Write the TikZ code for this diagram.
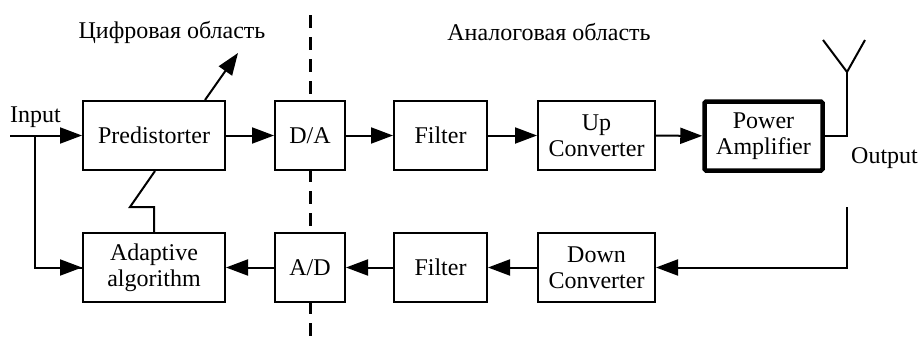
\documentclass[tikz,border=0pt]{standalone}
\usepackage{fontspec}
\setmainfont{Liberation Serif}
\usetikzlibrary{arrows.meta}
\begin{document}
\begin{tikzpicture}[x=1pt,y=-1pt,
  blk/.style={draw,line width=2pt,fill=white,minimum height=69pt,align=center,inner sep=0pt,font=\fontsize{24}{26}\selectfont},
  wire/.style={line width=2pt},
  arr/.style={wire,-{Triangle[length=22pt,width=16pt]}},
  lbl/.style={font=\fontsize{24}{26}\selectfont,inner sep=0pt}]
\useasboundingbox (0,0) rectangle (919,338);
\draw[line width=3pt,dash pattern=on 13pt off 9pt] (310,15) coordinate (dtop) -- (310,338) coordinate (dbot);
\node[blk,minimum width=142pt] (pre) at (154,135.5) {Predistorter};
\node[blk,minimum width=70pt] (da) at (310,135.5) {D/A};
\node[blk,minimum width=93pt] (f1) at (440.5,135.5) {Filter};
\node[blk,minimum width=117pt] (up) at (596.5,135.5) {Up\\Converter};
\node[blk,line width=4.5pt,rounded corners=1.5pt,minimum width=118pt,minimum height=69pt] (pa) at (763.5,136) {Power\\Amplifier};
\node[blk,minimum width=142pt] (ada) at (154,267.5) {Adaptive\\algorithm};
\node[blk,minimum width=70pt] (ad) at (310,267.5) {A/D};
\node[blk,minimum width=93pt] (f2) at (440.5,267.5) {Filter};
\node[blk,minimum width=117pt] (dn) at (596.5,267.5) {Down\\Converter};
\node[lbl,anchor=west] (inl) at (10,117) {Input};
\node[lbl,anchor=west] (outl) at (851,158) {Output};
\node[lbl] (dig) at (172,32) {Цифровая область};
\node[lbl] (ana) at (549,32) {Аналоговая область};
\coordinate (in) at (10,135.5);
\coordinate (br) at (35,135.5);
\coordinate (ant) at (847,72);
\coordinate (fb) at (847,207);
\coordinate (tip) at (238,53);
\draw[arr] (in) -- (pre);
\draw[wire] (br) |- (ada.west) ;
\draw[arr] (br |- ada.west) -- (ada);
\draw[arr] (pre) -- (da);
\draw[arr] (da) -- (f1);
\draw[arr] (f1) -- (up);
\draw[arr] (up) -- (pa);
\draw[wire] (pa.east) -| (ant);
\draw[wire,line join=miter] (823,40) -- (ant) -- (865,40);
\draw[arr] (fb) |- (dn.east);
\draw[arr] (dn) -- (f2);
\draw[arr] (f2) -- (ad);
\draw[arr] (ad) -- (ada);
\draw[wire] (155,171) -- (130,207) -- (154,207) -- (154,232);
\draw[arr] (205,100) -- (tip);
\end{tikzpicture}
\end{document}
